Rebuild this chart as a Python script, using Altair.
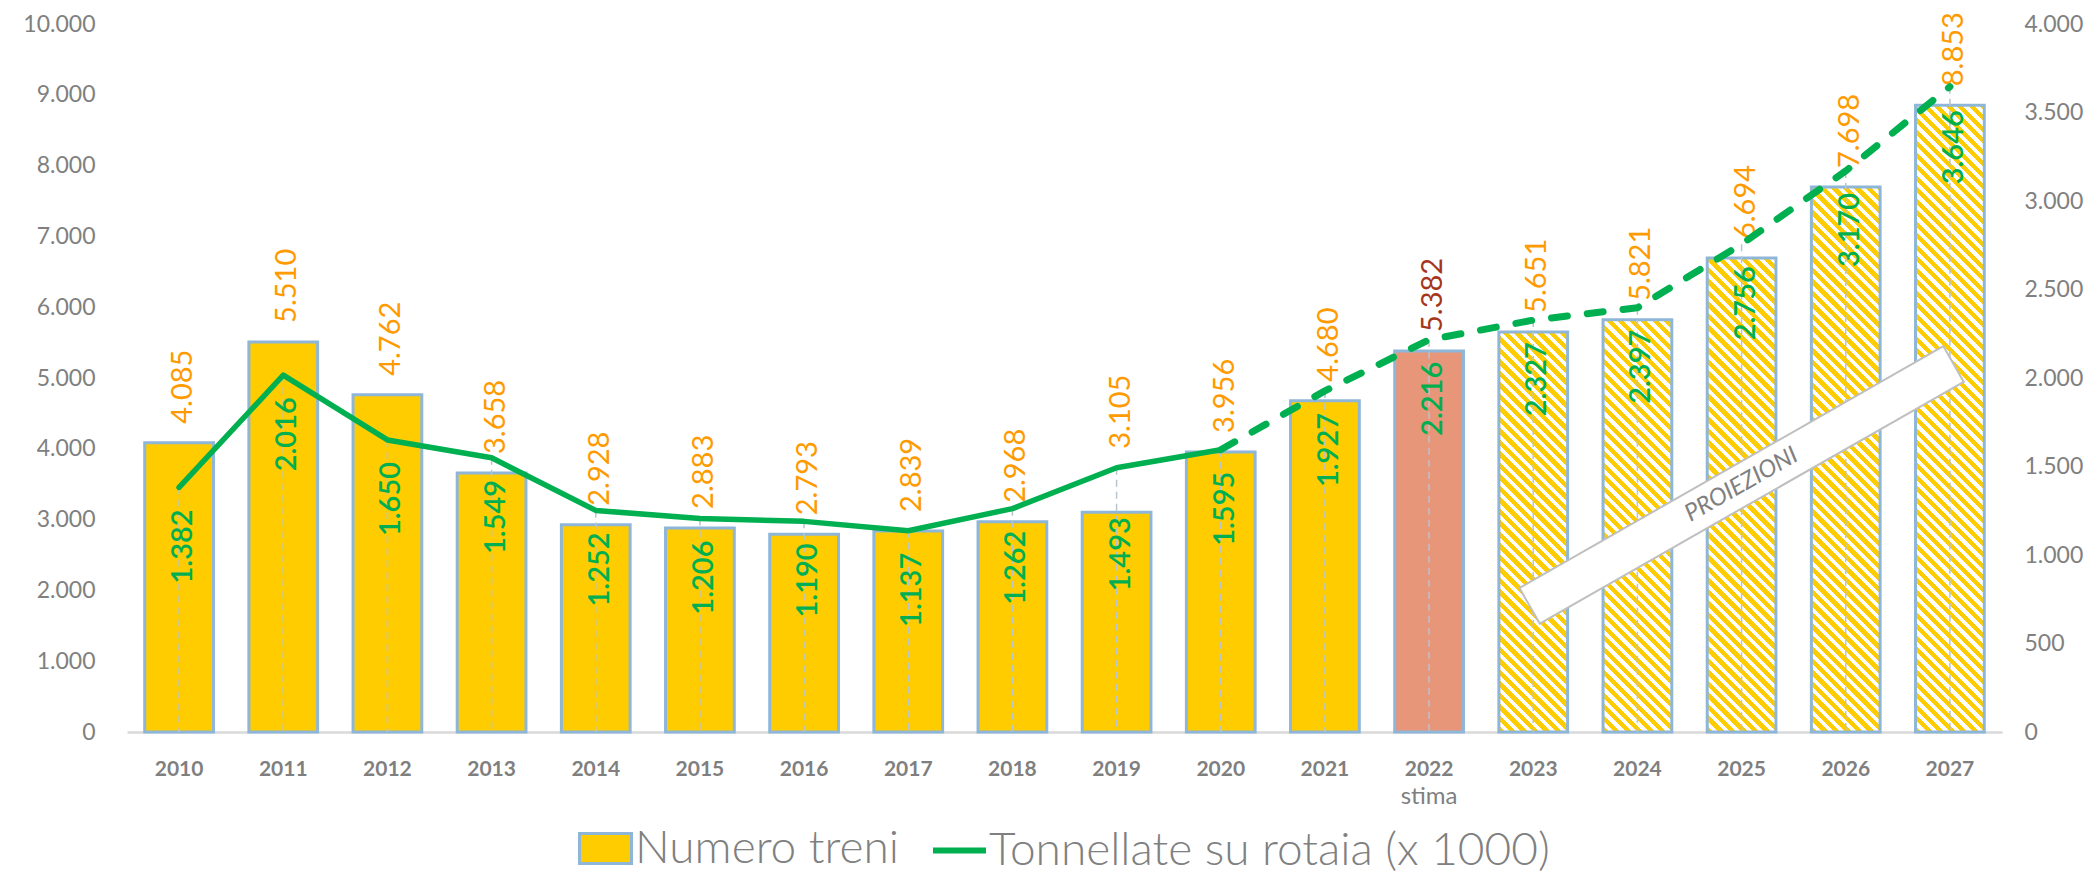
import altair as alt
import pandas as pd

# ---------------- data ----------------
years = ["2010", "2011", "2012", "2013", "2014", "2015", "2016", "2017", "2018",
         "2019", "2020", "2021", "2022", "2023", "2024", "2025", "2026", "2027"]
treni = [4085, 5510, 4762, 3658, 2928, 2883, 2793, 2839, 2968, 3105, 3956,
         4680, 5382, 5651, 5821, 6694, 7698, 8853]
tonnellate = [1382, 2016, 1650, 1549, 1252, 1206, 1190, 1137, 1262, 1493, 1595,
              1927, 2216, 2327, 2397, 2756, 3170, 3646]
serie_barre = "Numero treni"
serie_linea = "Tonnellate su rotaia (x 1000)"
anno_stima = "2022"
anni_proiezione = ["2023", "2024", "2025", "2026", "2027"]
ultimo_consuntivo_linea = 2020
left_ticks = list(range(0, 10001, 1000))
right_ticks = list(range(0, 4001, 500))

df = pd.DataFrame({"year": years, "yn": [int(y) for y in years],
                   "treni": treni, "tonn": tonnellate})

# ---------------- layout ----------------
W, H = 1875, 708
LMAX, RMAX = 10000, 4000
RATIO = LMAX / RMAX
PI, PO = 0.34, 0.17
step = W / (len(years) - PI + 2 * PO)
bw = step * (1 - PI)
PX_L = H / LMAX          # pixels per left unit
PX_R = H / RMAX          # pixels per right unit

YELLOW = "#FFCC00"
BAR_STROKE = "#8EB6D8"
SALMON = "#E8967A"
GREEN = "#00B050"
ORANGE = "#FF9A00"
DARKRED = "#A5361C"
GRAY = "#808080"
FONT = "Lato"


def hatch(value, period=11.5, frac=0.55):
    h = value * PX_L
    w = bw
    L = w + h
    stops = []
    pos = 0.0
    while pos < L - 1e-9:
        a = round(pos / L, 5)
        b = round(min((pos + period * frac) / L, 1.0), 5)
        c = round(min((pos + period) / L, 1.0), 5)
        stops += [alt.GradientStop(offset=a, color=YELLOW),
                  alt.GradientStop(offset=b, color=YELLOW),
                  alt.GradientStop(offset=b, color="#FFFFFF"),
                  alt.GradientStop(offset=c, color="#FFFFFF")]
        pos += period
    k = L / (w * w + h * h)
    return alt.LinearGradient(gradient="linear", stops=stops,
                              x1=0, y1=1, x2=w * k, y2=1 - h * k)


fmt_it = "replace(format(datum.value, ','), ',', '.')"

X = alt.X("year:N",
          scale=alt.Scale(domain=years, paddingInner=PI, paddingOuter=PO),
          axis=alt.Axis(title=None, labelAngle=0, labelFont=FONT, labelFontSize=21,
                        labelFontWeight="bold", labelColor="#7F7F7F", labelPadding=26,
                        ticks=False, tickSize=0, domainColor="#D9D9D9", domainWidth=2.5,
                        grid=False))
LSCALE = alt.Scale(domain=[0, LMAX], nice=False)
RSCALE = alt.Scale(domain=[0, RMAX], nice=False)
AXL = alt.Axis(title=None, values=left_ticks, labelExpr=fmt_it, orient="left",
               labelFont=FONT, labelFontSize=23, labelColor=GRAY,
               labelPadding=32, ticks=False, tickSize=0, domain=False, grid=False)
AXR = alt.Axis(title=None, values=right_ticks, labelExpr=fmt_it, orient="right",
               labelFont=FONT, labelFontSize=23, labelColor=GRAY,
               labelPadding=22, ticks=False, tickSize=0, domain=False, grid=False)
YL = alt.Y("treni:Q", scale=LSCALE, axis=AXL)
YR = alt.Y("tonn:Q", scale=RSCALE, axis=AXR)

# label anchors: orange label sits above the bar, or above the line point when the
# line point is clearly higher; green label sits below the line point but never
# higher than just under the bar top
base = alt.Chart(df).transform_calculate(
    lab_t="replace(format(datum.treni, ','), ',', '.')",
    lab_l="replace(format(datum.tonn, ','), ',', '.')",
    serie_b=f"'{serie_barre}'",
    serie_l=f"'{serie_linea}'",
    y_or=f"(datum.tonn * {RATIO} - datum.treni > 400) ? datum.tonn * {RATIO} : datum.treni",
    y_gr=f"min(datum.tonn - {22 / PX_R}, datum.treni / {RATIO} - {5 / PX_R})",
)

rect_path = "M -1 -0.577 L 1 -0.577 L 1 0.577 L -1 0.577 Z"

solid_bars = base.transform_filter(f"datum.yn < {int(anno_stima)}").mark_bar(
    stroke=BAR_STROKE, strokeWidth=3
).encode(
    x=X, y=YL,
    fill=alt.Fill("serie_b:N",
                  scale=alt.Scale(domain=[serie_barre], range=[YELLOW]),
                  legend=alt.Legend(title=None, orient="none", legendX=451, legendY=797,
                                    symbolType=rect_path, symbolSize=2704,
                                    symbolStrokeColor=BAR_STROKE, symbolStrokeWidth=3,
                                    labelFont=FONT, labelFontSize=46, labelFontWeight=300,
                                    labelColor=GRAY, labelOffset=2, labelLimit=1000,
                                    padding=0)),
)

stima_bar = base.transform_filter(f"datum.year == '{anno_stima}'").mark_bar(
    fill=SALMON, stroke=BAR_STROKE, strokeWidth=3
).encode(x=X, y=YL)

hatched = []
for yv in anni_proiezione:
    v = treni[years.index(yv)]
    hatched.append(
        base.transform_filter(f"datum.year == '{yv}'").mark_bar(
            fill=hatch(v), stroke=BAR_STROKE, strokeWidth=3
        ).encode(x=X, y=YL)
    )

orange_labels = base.mark_text(
    align="left", baseline="middle", angle=270, dx=19, dy=4,
    font=FONT, fontSize=29
).encode(
    x=X, y=alt.Y("y_or:Q", scale=LSCALE, axis=AXL), text="lab_t:N",
    color=alt.condition(f"datum.year == '{anno_stima}'", alt.value(DARKRED), alt.value(ORANGE)),
)

stima_txt = alt.Chart(pd.DataFrame({"t": ["stima"]})).mark_text(
    font=FONT, fontSize=24, color=GRAY, baseline="middle"
).encode(x=alt.XDatum(anno_stima, type="nominal"), y=alt.value(773), text="t:N")

bars_group = alt.layer(solid_bars, stima_bar, *hatched, orange_labels, stima_txt)

drop_lines = base.mark_rule(color="#B8C4CE", strokeWidth=1.5, strokeDash=[7, 5]).encode(
    x=X, y=YR, y2=alt.Y2Datum(0)
)

box = alt.Chart(pd.DataFrame({"t": ["PROIEZIONI"]})).mark_point(
    shape="M -1 -0.084 L 1 -0.084 L 1 0.084 L -1 0.084 Z",
    size=488 * 488, angle=330.3, filled=True, fill="white", stroke="#BFBFBF",
    strokeWidth=2, opacity=1
).encode(x=alt.XDatum("2025", type="nominal"), y=alt.YDatum(1396, type="quantitative"))

box_txt = alt.Chart(pd.DataFrame({"t": ["PROIEZIONI"]})).mark_text(
    angle=330.3, font=FONT, fontSize=24, fontStyle="italic", color=GRAY,
    align="center", baseline="middle"
).encode(x=alt.XDatum("2025", type="nominal"), y=alt.YDatum(1396, type="quantitative"),
         text="t:N")

line_solid = base.transform_filter(f"datum.yn <= {ultimo_consuntivo_linea}").mark_line(
    strokeWidth=5.5, strokeCap="round", strokeJoin="round"
).encode(
    x=X, y=YR,
    stroke=alt.Stroke("serie_l:N",
                      scale=alt.Scale(domain=[serie_linea], range=[GREEN]),
                      legend=alt.Legend(title=None, orient="none", legendX=803, legendY=797,
                                        symbolType="stroke", symbolSize=2809,
                                        symbolStrokeWidth=6, labelFont=FONT,
                                        labelFontSize=46, labelFontWeight=300,
                                        labelColor=GRAY, labelOffset=0, labelLimit=1000,
                                        padding=0)),
)

line_dash = base.transform_filter(f"datum.yn >= {ultimo_consuntivo_linea}").mark_line(
    stroke=GREEN, strokeWidth=7, strokeDash=[16, 20], strokeCap="round", strokeJoin="round"
).encode(x=X, y=YR)

green_labels = base.mark_text(
    align="right", baseline="middle", angle=270, dx=0, dy=4,
    font=FONT, fontSize=29, fontWeight=600, color=GREEN
).encode(x=X, y=alt.Y("y_gr:Q", scale=RSCALE, axis=AXR), text="lab_l:N")

lines_group = alt.layer(drop_lines, box, box_txt, line_solid, line_dash, green_labels)

chart = alt.layer(bars_group, lines_group).resolve_scale(
    y="independent"
).properties(
    width=W, height=H,
    autosize=alt.AutoSizeParams(type="none"),
    padding={"left": 119, "top": 16, "right": 90, "bottom": 146},
    background="white",
).configure_view(stroke=None)

chart.save("out.html", embed_options={"renderer": "svg", "actions": False})
